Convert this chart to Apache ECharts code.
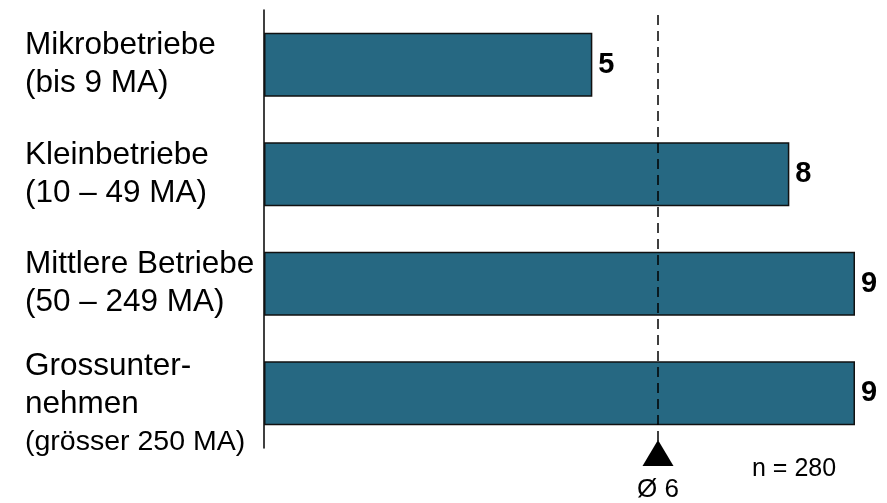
<!DOCTYPE html>
<html>
<head>
<meta charset="utf-8">
<style>
  html, body { margin: 0; padding: 0; background: #fff; }
  #chart { width: 887px; height: 503px; }
</style>
<script src="https://cdn.jsdelivr.net/npm/echarts@6/dist/echarts.min.js"></script>
</head>
<body>
<div id="chart"></div>
<script>
// Company size classes (top to bottom) and their values
const categories = [
  'Mikrobetriebe\n(bis 9 MA)',
  'Kleinbetriebe\n(10 – 49 MA)',
  'Mittlere Betriebe\n(50 – 249 MA)',
  'Grossunter-\nnehmen\n(grösser 250 MA)'
];
const values = [5, 8, 9, 9];
const averageValue = 6;
const sampleSize = 280;

const FONT = '"Liberation Sans", Arial, Helvetica, sans-serif';
const chart = echarts.init(document.getElementById('chart'), null, { renderer: 'canvas' });

function categoryLabel(text) {
  const lines = text.split('\n');
  return lines.map(l => (l.startsWith('(grösser') ? '{s|' + l + '}' : '{a|' + l + '}')).join('\n');
}

const yData = categories.map((c, i) => {
  if (i === categories.length - 1) {
    // the three-line label sits a little lower than its bar
    return { value: c, textStyle: { align: 'left', padding: [22, 0, 0, 0] } };
  }
  return c;
});

chart.setOption({
  animation: false,
  backgroundColor: '#ffffff',
  grid: {
    left: 264, top: 10, width: 591, height: 438,
    containLabel: false, outerBoundsMode: 'none'
  },
  xAxis: {
    type: 'value', min: 0, max: 9, show: false
  },
  yAxis: {
    type: 'category',
    inverse: true,
    data: yData,
    axisLine: { show: true, lineStyle: { color: '#000', width: 1.5 } },
    axisTick: { show: false },
    splitLine: { show: false },
    axisLabel: {
      align: 'left',
      margin: 239,
      formatter: categoryLabel,
      rich: {
        a: { fontFamily: FONT, fontSize: 31.5, lineHeight: 38, color: '#000', align: 'left' },
        s: { fontFamily: FONT, fontSize: 28.5, lineHeight: 38, color: '#000', align: 'left' }
      }
    }
  },
  series: [{
    type: 'bar',
    data: values,
    barWidth: 64,
    itemStyle: { color: '#266882', borderColor: '#111', borderWidth: 1.5 },
    label: {
      show: true,
      position: 'right',
      distance: 6,
      fontFamily: FONT,
      fontSize: 29,
      fontWeight: 'bold',
      color: '#000'
    }
  }]
});

// Average marker: dashed line, triangle and caption placed at the axis position of the mean
const ax = chart.convertToPixel({ xAxisIndex: 0 }, averageValue);
chart.setOption({
  graphic: [
    {
      type: 'line', z: 10,
      shape: { x1: ax, y1: 15, x2: ax, y2: 441 },
      style: { stroke: '#000', lineWidth: 1.5, lineDash: [10, 6] }
    },
    {
      type: 'polygon', z: 10,
      shape: { points: [[ax, 440], [ax + 15.5, 466], [ax - 15.5, 466]] },
      style: { fill: '#000' }
    },
    {
      type: 'text', z: 10,
      x: ax, y: 490,
      style: { text: 'Ø ' + averageValue, fontFamily: FONT, fontSize: 26, fill: '#000', align: 'center', verticalAlign: 'middle' }
    },
    {
      type: 'text', z: 10,
      x: 752, y: 469,
      style: { text: 'n = ' + sampleSize, fontFamily: FONT, fontSize: 25, fill: '#000', align: 'left', verticalAlign: 'middle' }
    }
  ]
});
</script>
</body>
</html>
